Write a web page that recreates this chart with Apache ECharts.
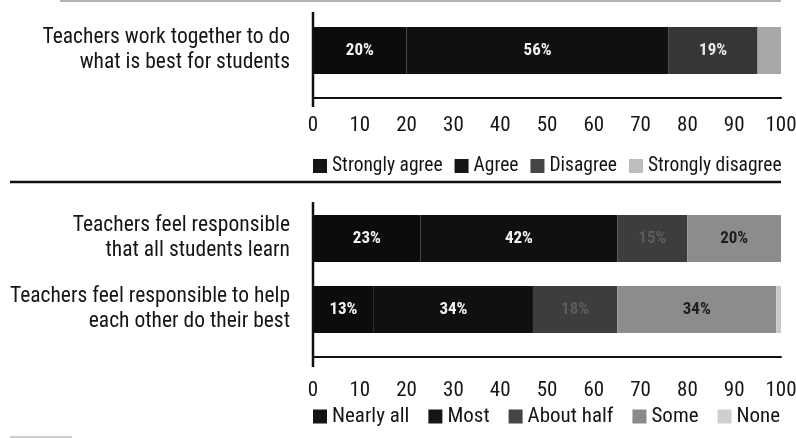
<!DOCTYPE html>
<html>
<head>
<meta charset="utf-8">
<script src="https://cdn.jsdelivr.net/npm/echarts@6/dist/echarts.min.js"></script>
<style>
  html, body { margin: 0; padding: 0; background: #fff; }
  #chart { width: 796px; height: 438px; }
</style>
</head>
<body>
<div id="chart"></div>
<script>
// ======================
// DATA
// ======================

const agreeLevels = ['Strongly agree', 'Agree', 'Disagree', 'Strongly disagree'];
const agreeColors = ['#0c0c0c', '#101010', '#363636', '#a8a8a8'];
const agreeLegendColors = ['#151515', '#151515', '#454545', '#bdbdbd'];
const topStatements = ['Teachers work together to do\nwhat is best for students'];
const agreeValues = [[20], [56], [19], [5]];

const responsibilityLevels = ['Nearly all', 'Most', 'About half', 'Some', 'None'];
const responsibilityColors = ['#0c0c0c', '#101010', '#3d3d3d', '#8c8c8c', '#cacaca'];
const responsibilityLegendColors = ['#151515', '#151515', '#454545', '#8a8a8a', '#cfcfcf'];
const bottomStatements = [
    'Teachers feel responsible\nthat all students learn',
    'Teachers feel responsible to help\neach other do their best'
];
// one row per level: [all students learn, help each other]
const responsibilityValues = [[23, 13], [42, 34], [15, 18], [20, 34], [0, 1]];

const tickLabels = ['0', '10', '20', '30', '40', '50', '60', '70', '80', '90', '100'];

// label colour on each segment
const agreeLabelColors = ['#f2f2f2', '#f2f2f2', '#e6e6e6', '#222'];
const responsibilityLabelColors = ['#f2f2f2', '#f2f2f2', '#5c5c5c', '#1e1e1e', '#222'];

// ======================
// CHART
// ======================

const FONT = '"Roboto Condensed", "Liberation Sans Narrow", Roboto, sans-serif';
const STRETCH = 'condensed';
const WEIGHT = 450;
const TEXT = '#151515';

const chart = echarts.init(document.getElementById('chart'), null, { renderer: 'canvas' });

function xAxisFor(gridIndex, margin, offset) {
    return {
        type: 'value',
        gridIndex,
        min: 0,
        max: 100,
        interval: 10,
        offset,
        axisLine: { show: true, lineStyle: { color: '#111', width: 2 } },
        axisTick: { show: false },
        splitLine: { show: false },
        axisLabel: {
            margin,
            fontFamily: FONT,
            fontStyle: STRETCH,
            fontWeight: WEIGHT,
            fontSize: 21,
            color: TEXT,
            formatter: v => tickLabels[Math.round(v / 10)]
        }
    };
}

function yAxisFor(gridIndex, data) {
    return {
        type: 'category',
        gridIndex,
        inverse: true,
        data,
        axisLine: { show: false },
        axisTick: { show: false },
        axisLabel: {
            margin: 23,
            align: 'right',
            fontFamily: FONT,
            fontStyle: STRETCH,
            fontWeight: WEIGHT,
            fontSize: 21.5,
            lineHeight: 25,
            color: TEXT
        }
    };
}

function barSeries(name, values, color, labelColor, axisIndex) {
    return {
        name,
        type: 'bar',
        stack: 'total' + axisIndex,
        xAxisIndex: axisIndex,
        yAxisIndex: axisIndex,
        barWidth: 47,
        data: values,
        itemStyle: { color },
        label: {
            show: true,
            position: 'inside',
            fontFamily: FONT,
            fontStyle: STRETCH,
            fontSize: 17,
            fontWeight: 'bold',
            color: labelColor,
            formatter: p => (p.value >= 10 ? p.value + '%' : '')
        },
        emphasis: { disabled: true }
    };
}

function legendFor(names, colors, top, gap, fontSize) {
    return {
        left: 313,
        top,
        width: 700,
        padding: 0,
        itemWidth: 14,
        itemHeight: 14,
        itemGap: gap,
        icon: 'rect',
        selectedMode: false,
        data: names.map((name, i) => ({ name, itemStyle: { color: colors[i] } })),
        textStyle: {
            fontFamily: FONT,
            fontStyle: STRETCH,
            fontWeight: WEIGHT,
            fontSize,
            color: TEXT,
            padding: [0, 0, 0, 0]
        }
    };
}

const series = [
    ...agreeLevels.map((name, i) => barSeries(name, agreeValues[i], agreeColors[i], agreeLabelColors[i], 0)),
    ...responsibilityLevels.map((name, i) =>
        barSeries(name, responsibilityValues[i], responsibilityColors[i], responsibilityLabelColors[i], 1))
];

const option = {
    animation: false,
    backgroundColor: '#fff',
    grid: [
        { left: 313, right: 15, top: 3, height: 95, outerBoundsMode: 'none', containLabel: false },
        { left: 313, right: 15, top: 203, height: 142, outerBoundsMode: 'none', containLabel: false }
    ],
    xAxis: [xAxisFor(0, 17, 0), xAxisFor(1, 23, 12)],
    yAxis: [yAxisFor(0, topStatements), yAxisFor(1, bottomStatements)],
    legend: [
        legendFor(agreeLevels, agreeLegendColors, 156, 12, 19.5),
        legendFor(responsibilityLevels, responsibilityLegendColors, 406, 19, 21)
    ],
    graphic: [
        // faint top rule
        { type: 'line', shape: { x1: 60, y1: 1, x2: 781, y2: 1 }, style: { stroke: '#9a9a9a', lineWidth: 1.5 } },
        // separator between the two panels
        { type: 'line', shape: { x1: 10, y1: 182, x2: 781, y2: 182 }, style: { stroke: '#111', lineWidth: 2.5 } },
        // vertical axis rules
        { type: 'line', shape: { x1: 313, y1: 12, x2: 313, y2: 107 }, style: { stroke: '#111', lineWidth: 2.5 } },
        { type: 'line', shape: { x1: 313, y1: 202, x2: 313, y2: 367 }, style: { stroke: '#111', lineWidth: 2.5 } },
        // small mark bottom left
        { type: 'line', shape: { x1: 10, y1: 437, x2: 72, y2: 437 }, style: { stroke: '#bbb', lineWidth: 1.5 } }
    ],
    series
};

chart.setOption(option);
</script>
</body>
</html>
